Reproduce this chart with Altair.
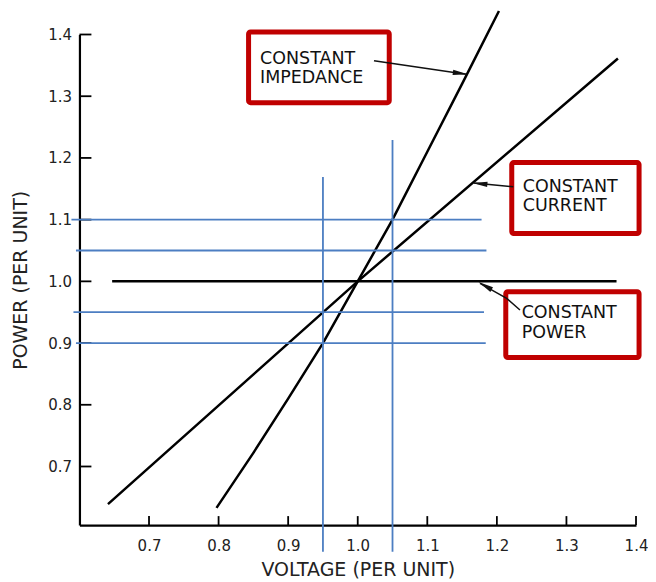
import altair as alt
import pandas as pd

# ---- curves (voltage, power) ----
power_x = [0.647, 1.372]
power_y = [1.0, 1.0]
current_x = [0.641, 1.0, 1.374]
current_y = [0.639, 1.0, 1.361]
imped_x = [0.797, 0.85, 0.9, 0.95, 1.0, 1.05, 1.1, 1.15, 1.203]
imped_y = [0.633, 0.722, 0.81, 0.9, 1.0, 1.1, 1.21, 1.32, 1.438]

# ---- blue reference lines ----
h_levels = [1.1, 1.05, 0.95, 0.9]
h_start = [0.5885, 0.595, 0.5914, 0.595]
h_end = [1.178, 1.185, 1.1815, 1.184]
v_levels = [0.95, 1.05]
v_bottom = [0.562, 0.562]
v_top = [1.169, 1.229]

# ---- ticks ----
x_ticks = [0.7, 0.8, 0.9, 1.0, 1.1, 1.2, 1.3, 1.4]
y_ticks = [0.7, 0.8, 0.9, 1.0, 1.1, 1.2, 1.3, 1.4]

# ---- annotation boxes ----
box_names = ["impedance", "current", "power"]
box_x1 = [0.8431, 1.2214, 1.2128]
box_x2 = [1.0453, 1.4044, 1.4044]
box_y1 = [1.4040, 1.1924, 0.9831]
box_y2 = [1.2896, 1.0775, 0.8767]

# ---- annotation text ----
label_text = ["CONSTANT", "IMPEDANCE", "CONSTANT", "CURRENT", "CONSTANT", "POWER"]
label_x = [0.8596, 0.8596, 1.2371, 1.2371, 1.2356, 1.2356]
label_y = [1.3611, 1.3288, 1.1523, 1.1220, 0.9483, 0.9169]

# ---- arrows ----
arrow_id = ["a1", "a1", "a2", "a2", "a3", "a3", "a3"]
arrow_ord = [0, 1, 0, 1, 0, 1, 2]
arrow_x = [1.0234, 1.1556, 1.2236, 1.1671, 1.2332, 1.2141, 1.1757]
arrow_y = [1.3573, 1.3357, 1.1532, 1.1592, 0.9536, 0.9725, 0.9968]
head_x = [1.1476, 1.1755, 1.1831]
head_y = [1.3371, 1.1583, 0.9927]
head_angle = [97.7, 275.4, 299.8]

W, H = 557, 491
FONT = "DejaVu Sans"

curves = pd.DataFrame(
    {"x": power_x + current_x + imped_x,
     "y": power_y + current_y + imped_y,
     "s": ["power"] * len(power_x) + ["current"] * len(current_x) + ["impedance"] * len(imped_x)}
)
hlines = pd.DataFrame({"x": h_start, "x2": h_end, "y": h_levels})
vlines = pd.DataFrame({"x": v_levels, "y": v_bottom, "y2": v_top})
xt = pd.DataFrame({"x": x_ticks, "y": [0.605] * len(x_ticks), "y2": [0.6196] * len(x_ticks)})
yt = pd.DataFrame({"y": y_ticks, "x": [0.6] * len(y_ticks), "x2": [0.6172] * len(y_ticks)})
boxes = pd.DataFrame({"name": box_names, "x": box_x1, "x2": box_x2, "y": box_y1, "y2": box_y2})
labels = pd.DataFrame({"t": label_text, "x": label_x, "y": label_y})
arrows = pd.DataFrame({"id": arrow_id, "o": arrow_ord, "x": arrow_x, "y": arrow_y})
heads = pd.DataFrame({"x": head_x, "y": head_y, "angle": head_angle})

xs = alt.Scale(domain=[0.6, 1.4], nice=False, zero=False)
ys = alt.Scale(domain=[0.605, 1.4], nice=False, zero=False)
X = alt.X("x:Q", scale=xs, title="VOLTAGE (PER UNIT)",
          axis=alt.Axis(values=x_ticks, format=".1f", labelPadding=13, labelFlush=False,
                        titleY=44, titleBaseline="middle"))
Y = alt.Y("y:Q", scale=ys, title="POWER (PER UNIT)",
          axis=alt.Axis(values=y_ticks, format=".1f", labelPadding=8, labelFlush=False,
                        titleAngle=270, titleX=-59, titleY=H / 2,
                        titleAlign="center", titleBaseline="middle"))

curve_layer = alt.Chart(curves).mark_line(color="black", strokeWidth=2.5).encode(
    x=X, y=Y, detail="s:N", order="x:Q")
xtick_layer = alt.Chart(xt).mark_rule(color="black", strokeWidth=1.8).encode(x=X, y=Y, y2="y2:Q")
ytick_layer = alt.Chart(yt).mark_rule(color="black", strokeWidth=1.8).encode(x=X, x2="x2:Q", y=Y)
h_layer = alt.Chart(hlines).mark_rule(color="#4C7EC2", strokeWidth=1.8).encode(x=X, x2="x2:Q", y=Y)
v_layer = alt.Chart(vlines).mark_rule(color="#4C7EC2", strokeWidth=1.8).encode(x=X, y=Y, y2="y2:Q")
box_layer = alt.Chart(boxes).mark_rect(fill="white", stroke="#C00000", strokeWidth=5,
                                       cornerRadius=2).encode(x=X, x2="x2:Q", y=Y, y2="y2:Q")
text_layer = alt.Chart(labels).mark_text(align="left", baseline="middle", font=FONT,
                                         fontSize=17.5, color="#111").encode(x=X, y=Y, text="t:N")
arrow_layer = alt.Chart(arrows).mark_line(color="#111", strokeWidth=1.5).encode(
    x=X, y=Y, detail="id:N", order="o:Q")
head_layer = alt.Chart(heads).mark_point(shape="M0,-1L0.35,1L-0.35,1Z", filled=True, size=230,
                                         color="#111", opacity=1).encode(
    x=X, y=Y, angle=alt.Angle("angle:Q", scale=None))

chart = alt.layer(
    box_layer, curve_layer, xtick_layer, ytick_layer, h_layer, v_layer,
    arrow_layer, head_layer, text_layer
).properties(
    width=W, height=H,
    autosize=alt.AutoSizeParams(type="none"),
    padding={"left": 71.5, "top": 26.3, "right": 12, "bottom": 57},
).configure_view(stroke=None).configure_axis(
    grid=False, ticks=False, tickSize=0, domainColor="black", domainWidth=2.2,
    labelFont=FONT, labelFontSize=15, labelColor="#222",
    titleFont=FONT, titleFontSize=19, titleFontWeight="normal", titleColor="#222",
)

chart.save("out.html", embed_options={"renderer": "svg", "actions": False})
